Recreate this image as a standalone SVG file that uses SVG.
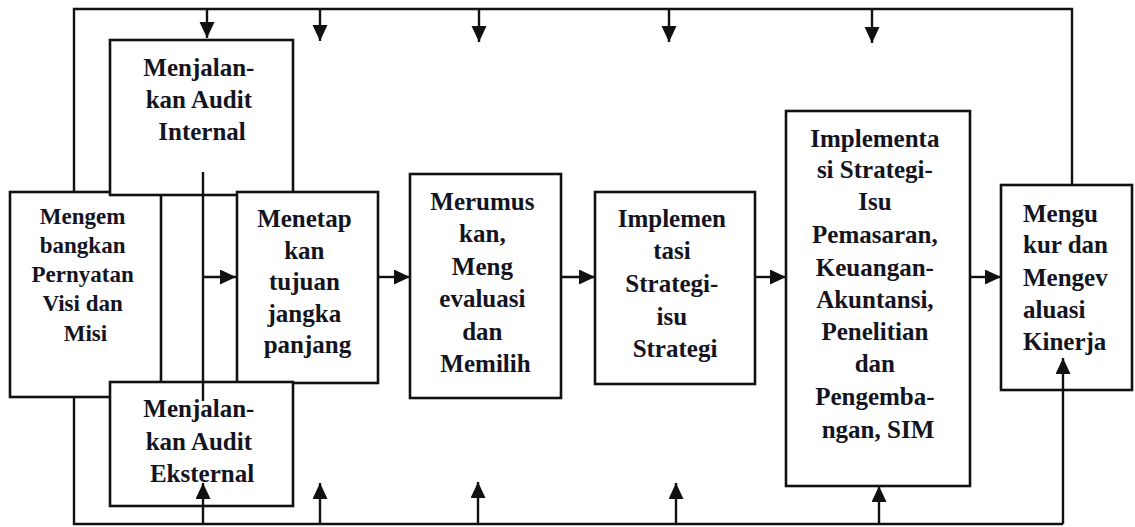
<svg xmlns="http://www.w3.org/2000/svg" width="1135" height="527" viewBox="0 0 1135 527">
  <style>
    .box { fill: #ffffff; stroke: #111111; stroke-width: 2.6; }
    .lbl { font-family: "Liberation Serif", "Times New Roman", serif; font-weight: bold; font-size: 25px; fill: #14141f; text-anchor: middle; }
    .sm { font-size: 23px; }
    .left { text-anchor: start; }
    .wire { fill: none; stroke: #111111; stroke-width: 2.4; }
    .arr { fill: none; stroke: #111111; stroke-width: 2.4; marker-end: url(#head); }
  </style>
  <defs>
    <marker id="head" markerUnits="userSpaceOnUse" markerWidth="17" markerHeight="16" refX="16" refY="7.5" orient="auto">
      <path d="M0,0 L16,7.5 L0,15 z" fill="#111111"/>
    </marker>
  </defs>
  <rect width="1135" height="527" fill="#ffffff"/>

  <!-- Vision and mission statement -->
  <g id="visi-misi">
    <rect class="box" x="10" y="192" width="151" height="205"/>
    <text class="lbl sm" x="85.5">
      <tspan x="85.5" y="224">Mengem</tspan>
      <tspan x="85.5" y="253">bangkan</tspan>
      <tspan x="85.5" y="282">Pernyatan</tspan>
      <tspan x="85.5" y="311">Visi dan</tspan>
      <tspan x="85.5" y="341">Misi</tspan>
    </text>
  </g>

  <!-- Internal audit -->
  <g id="audit-internal">
    <rect class="box" x="110" y="40" width="183" height="155"/>
    <text class="lbl">
      <tspan x="202" y="76">Menjalan-</tspan>
      <tspan x="202" y="108">kan Audit</tspan>
      <tspan x="202" y="140">Internal</tspan>
    </text>
  </g>

  <!-- Long-term objectives -->
  <g id="tujuan">
    <rect class="box" x="237" y="192" width="141" height="191"/>
    <text class="lbl">
      <tspan x="307.5" y="227">Menetap</tspan>
      <tspan x="307.5" y="259">kan</tspan>
      <tspan x="307.5" y="290">tujuan</tspan>
      <tspan x="307.5" y="322">jangka</tspan>
      <tspan x="307.5" y="353">panjang</tspan>
    </text>
  </g>

  <!-- External audit -->
  <g id="audit-eksternal">
    <rect class="box" x="110" y="382" width="183" height="124"/>
    <text class="lbl">
      <tspan x="202" y="417">Menjalan-</tspan>
      <tspan x="202" y="450">kan Audit</tspan>
      <tspan x="202" y="482">Eksternal</tspan>
    </text>
  </g>

  <!-- Formulate, evaluate and choose -->
  <g id="merumuskan">
    <rect class="box" x="410" y="174" width="151" height="224"/>
    <text class="lbl">
      <tspan x="485.5" y="210">Merumus</tspan>
      <tspan x="485.5" y="242">kan,</tspan>
      <tspan x="485.5" y="275">Meng</tspan>
      <tspan x="485.5" y="307">evaluasi</tspan>
      <tspan x="485.5" y="340">dan</tspan>
      <tspan x="485.5" y="372">Memilih</tspan>
    </text>
  </g>

  <!-- Strategy implementation -->
  <g id="implementasi-strategi">
    <rect class="box" x="595" y="192" width="160" height="192"/>
    <text class="lbl">
      <tspan x="675" y="227">Implemen</tspan>
      <tspan x="675" y="259">tasi</tspan>
      <tspan x="675" y="292">Strategi-</tspan>
      <tspan x="675" y="325">isu</tspan>
      <tspan x="675" y="357">Strategi</tspan>
    </text>
  </g>

  <!-- Functional strategy implementation -->
  <g id="implementasi-fungsional">
    <rect class="box" x="786" y="111" width="184" height="375"/>
    <text class="lbl">
      <tspan x="878" y="147">Implementa</tspan>
      <tspan x="878" y="178">si Strategi-</tspan>
      <tspan x="878" y="210">Isu</tspan>
      <tspan x="878" y="243">Pemasaran,</tspan>
      <tspan x="878" y="276">Keuangan-</tspan>
      <tspan x="878" y="308">Akuntansi,</tspan>
      <tspan x="878" y="340">Penelitian</tspan>
      <tspan x="878" y="372">dan</tspan>
      <tspan x="878" y="405">Pengemba-</tspan>
      <tspan x="878" y="438">ngan, SIM</tspan>
    </text>
  </g>

  <!-- Measure and evaluate performance -->
  <g id="evaluasi-kinerja">
    <rect class="box" x="1001" y="185" width="131" height="205"/>
    <text class="lbl left">
      <tspan x="1023" y="222">Mengu</tspan>
      <tspan x="1023" y="253">kur dan</tspan>
      <tspan x="1023" y="286">Mengev</tspan>
      <tspan x="1023" y="318">aluasi</tspan>
      <tspan x="1023" y="350">Kinerja</tspan>
    </text>
  </g>

  <!-- Connectors -->
  <g id="connectors">
    <!-- feedback loop along the top -->
    <path class="wire" d="M74,192 V9 H1072 V185"/>
    <path class="arr" d="M207,9 V38"/>
    <path class="arr" d="M320,9 V41"/>
    <path class="arr" d="M479,9 V42"/>
    <path class="arr" d="M669,9 V42"/>
    <path class="arr" d="M872,9 V43"/>
    <!-- feedback loop along the bottom -->
    <path class="wire" d="M74,397 V524 H1063"/>
    <path class="arr" d="M203,524 V483"/>
    <path class="arr" d="M320,524 V483"/>
    <path class="arr" d="M478,524 V482"/>
    <path class="arr" d="M676,524 V483"/>
    <path class="arr" d="M879,524 V486"/>
    <path class="arr" d="M1063,524 V358"/>
    <!-- audits feeding the objectives -->
    <path class="wire" d="M203,172 V401"/>
    <path class="arr" d="M203,277 H236"/>
    <!-- main flow -->
    <path class="arr" d="M378,277 H410"/>
    <path class="arr" d="M561,277 H595"/>
    <path class="arr" d="M755,277 H786"/>
    <path class="arr" d="M970,277 H1001"/>
  </g>
</svg>
